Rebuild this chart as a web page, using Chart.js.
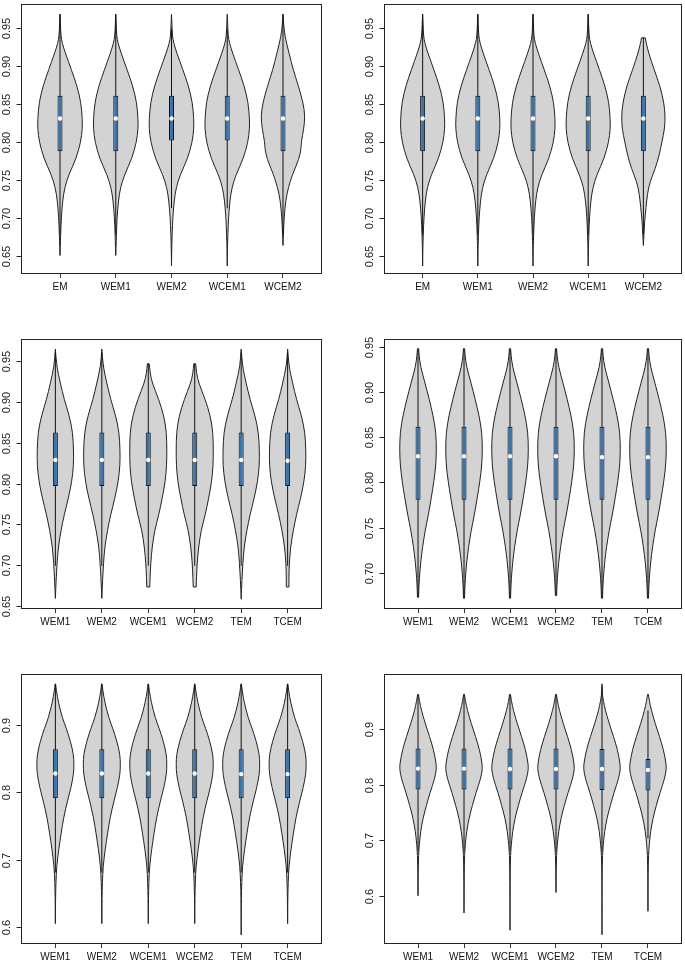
<!DOCTYPE html>
<html>
<head>
<meta charset="utf-8">
<script src="https://cdn.jsdelivr.net/npm/chart.js@4.4.1/dist/chart.umd.min.js"></script>
<style>
  body { margin: 0; background: #fff; width: 685px; height: 964px; overflow: hidden; position: relative; }
  canvas { position: absolute; }
</style>
</head>
<body>
<canvas id="c1" width="342" height="300" style="left:0;top:0"></canvas>
<canvas id="c2" width="324" height="300" style="left:362px;top:0"></canvas>
<canvas id="c3" width="342" height="300" style="left:0;top:335px"></canvas>
<canvas id="c4" width="324" height="300" style="left:362px;top:335px"></canvas>
<canvas id="c5" width="342" height="300" style="left:0;top:670px"></canvas>
<canvas id="c6" width="324" height="300" style="left:362px;top:670px"></canvas>
<script>
  // density outlines: level -> relative half width (1 = widest)
  const shapeALevels = [0.968, 0.955, 0.94, 0.93, 0.917, 0.895, 0.874, 0.852, 0.83, 0.817, 0.80, 0.778, 0.757, 0.74, 0.723, 0.701, 0.68, 0.66, 0.637];
  const shapeAWidths = [0, 0.02, 0.04, 0.10, 0.24, 0.51, 0.76, 0.94, 1.0, 1.0, 0.93, 0.72, 0.39, 0.21, 0.12, 0.06, 0.03, 0.01, 0];
  const shapeBLevels = [0.968, 0.955, 0.94, 0.917, 0.895, 0.874, 0.852, 0.834, 0.817, 0.80, 0.791, 0.778, 0.757, 0.74, 0.723, 0.70, 0.68, 0.664];
  const shapeBWidths = [0, 0.03, 0.08, 0.27, 0.46, 0.69, 0.90, 0.99, 0.93, 0.82, 0.81, 0.72, 0.42, 0.24, 0.12, 0.05, 0.02, 0];
  const shapeCLevels = [0.938, 0.93, 0.917, 0.895, 0.874, 0.852, 0.834, 0.817, 0.80, 0.783, 0.765, 0.748, 0.731, 0.714, 0.697, 0.68, 0.664];
  const shapeCWidths = [0.08, 0.13, 0.24, 0.49, 0.75, 0.93, 0.99, 0.96, 0.84, 0.72, 0.54, 0.30, 0.18, 0.12, 0.06, 0.03, 0];
  const shapeDLevels = [0.965, 0.945, 0.923, 0.903, 0.883, 0.863, 0.842, 0.822, 0.802, 0.782, 0.762, 0.742, 0.722, 0.702, 0.681, 0.659];
  const shapeDWidths = [0, 0.06, 0.27, 0.48, 0.75, 0.93, 0.98, 0.98, 0.88, 0.70, 0.48, 0.30, 0.16, 0.09, 0.04, 0];
  const shapeD2Levels = [0.965, 0.945, 0.923, 0.903, 0.883, 0.863, 0.842, 0.822, 0.802, 0.782, 0.762, 0.742, 0.722, 0.702, 0.685, 0.673];
  const shapeD2Widths = [0, 0.06, 0.27, 0.48, 0.75, 0.93, 0.98, 0.98, 0.88, 0.70, 0.48, 0.30, 0.16, 0.09, 0.07, 0.07];
  const shapeELevels = [0.947, 0.935, 0.923, 0.903, 0.883, 0.863, 0.842, 0.822, 0.802, 0.782, 0.762, 0.742, 0.722, 0.702, 0.686, 0.673];
  const shapeEWidths = [0.05, 0.10, 0.22, 0.57, 0.84, 0.98, 1.0, 0.99, 0.91, 0.75, 0.57, 0.34, 0.21, 0.13, 0.10, 0.08];
  const shapeFLevels = [0.948, 0.94, 0.928, 0.91, 0.892, 0.874, 0.8555, 0.837, 0.8194, 0.801, 0.783, 0.765, 0.747, 0.729, 0.711, 0.693, 0.68, 0.672];
  const shapeFWidths = [0.03, 0.06, 0.14, 0.38, 0.61, 0.82, 0.97, 1.0, 0.97, 0.86, 0.72, 0.57, 0.39, 0.25, 0.14, 0.07, 0.04, 0.03];
  const shapeGLevels = [0.961, 0.95, 0.934, 0.91, 0.895, 0.876, 0.856, 0.841, 0.827, 0.807, 0.788, 0.763, 0.739, 0.715, 0.69, 0.666, 0.642, 0.62, 0.588];
  const shapeGWidths = [0.01, 0.06, 0.16, 0.38, 0.59, 0.81, 0.98, 1.0, 0.98, 0.84, 0.66, 0.45, 0.31, 0.18, 0.07, 0.03, 0.01, 0.005, 0];
  const shapeHLevels = [0.981, 0.962, 0.95, 0.934, 0.91, 0.886, 0.863, 0.839, 0.827, 0.81, 0.786, 0.762, 0.739, 0.715, 0.692, 0.674, 0.64, 0.60, 0.527];
  const shapeHWidths = [0, 0.02, 0.08, 0.18, 0.39, 0.63, 0.84, 0.98, 1.0, 0.90, 0.66, 0.45, 0.27, 0.14, 0.07, 0.03, 0.01, 0.005, 0];

  // panel 1 (top left)
  const p1Names = ['EM', 'WEM1', 'WEM2', 'WCEM1', 'WCEM2'];
  const p1Max = [0.968, 0.968, 0.968, 0.968, 0.968];
  const p1Min = [0.651, 0.651, 0.637, 0.637, 0.664];
  const p1Q1 = [0.788, 0.788, 0.802, 0.802, 0.788];
  const p1Med = [0.831, 0.831, 0.831, 0.831, 0.831];
  const p1Q3 = [0.861, 0.861, 0.861, 0.861, 0.861];
  const p1Lo = [0.678, 0.678, 0.713, 0.713, 0.678];
  const p1Hi = [0.968, 0.968, 0.949, 0.949, 0.968];
  const p1Shape = ['A', 'A', 'A', 'A', 'B'];
  const p1Ticks = ['0.65', '0.70', '0.75', '0.80', '0.85', '0.90', '0.95'];

  // panel 2 (top right)
  const p2Names = ['EM', 'WEM1', 'WEM2', 'WCEM1', 'WCEM2'];
  const p2Max = [0.968, 0.968, 0.968, 0.968, 0.937];
  const p2Min = [0.637, 0.637, 0.637, 0.637, 0.664];
  const p2Q1 = [0.788, 0.788, 0.788, 0.788, 0.788];
  const p2Med = [0.831, 0.831, 0.831, 0.831, 0.831];
  const p2Q3 = [0.861, 0.861, 0.861, 0.861, 0.861];
  const p2Lo = [0.678, 0.678, 0.678, 0.678, 0.678];
  const p2Hi = [0.968, 0.968, 0.968, 0.968, 0.937];
  const p2Shape = ['A', 'A', 'A', 'A', 'C'];
  const p2Ticks = ['0.65', '0.70', '0.75', '0.80', '0.85', '0.90', '0.95'];

  // panel 3 (middle left)
  const p3Names = ['WEM1', 'WEM2', 'WCEM1', 'WCEM2', 'TEM', 'TCEM'];
  const p3Max = [0.965, 0.965, 0.947, 0.947, 0.965, 0.965];
  const p3Min = [0.659, 0.659, 0.673, 0.673, 0.658, 0.673];
  const p3Q1 = [0.797, 0.797, 0.797, 0.797, 0.797, 0.797];
  const p3Med = [0.829, 0.829, 0.829, 0.829, 0.829, 0.828];
  const p3Q3 = [0.8626, 0.8626, 0.8626, 0.8626, 0.8626, 0.8626];
  const p3Lo = [0.699, 0.699, 0.699, 0.699, 0.699, 0.699];
  const p3Hi = [0.961, 0.961, 0.947, 0.947, 0.961, 0.961];
  const p3Shape = ['D', 'D', 'E', 'E', 'D', 'D2'];
  const p3Ticks = ['0.65', '0.70', '0.75', '0.80', '0.85', '0.90', '0.95'];

  // panel 4 (middle right)
  const p4Names = ['WEM1', 'WEM2', 'WCEM1', 'WCEM2', 'TEM', 'TCEM'];
  const p4Max = [0.948, 0.948, 0.948, 0.948, 0.948, 0.948];
  const p4Min = [0.673, 0.672, 0.672, 0.675, 0.672, 0.672];
  const p4Q1 = [0.781, 0.781, 0.781, 0.781, 0.781, 0.781];
  const p4Med = [0.829, 0.829, 0.829, 0.829, 0.828, 0.828];
  const p4Q3 = [0.8617, 0.8617, 0.8617, 0.8617, 0.8617, 0.8617];
  const p4Lo = [0.673, 0.672, 0.672, 0.675, 0.672, 0.672];
  const p4Hi = [0.948, 0.948, 0.948, 0.948, 0.948, 0.948];
  const p4Shape = ['F', 'F', 'F', 'F', 'F', 'F'];
  const p4Ticks = ['0.70', '0.75', '0.80', '0.85', '0.90', '0.95'];

  // panel 5 (bottom left)
  const p5Names = ['WEM1', 'WEM2', 'WCEM1', 'WCEM2', 'TEM', 'TCEM'];
  const p5Max = [0.961, 0.961, 0.961, 0.961, 0.961, 0.961];
  const p5Min = [0.605, 0.605, 0.605, 0.605, 0.588, 0.605];
  const p5Q1 = [0.791, 0.791, 0.791, 0.791, 0.791, 0.791];
  const p5Med = [0.828, 0.828, 0.828, 0.828, 0.827, 0.827];
  const p5Q3 = [0.864, 0.864, 0.864, 0.864, 0.864, 0.864];
  const p5Lo = [0.681, 0.681, 0.681, 0.681, 0.681, 0.681];
  const p5Hi = [0.961, 0.961, 0.961, 0.961, 0.961, 0.961];
  const p5Shape = ['G', 'G', 'G', 'G', 'G', 'G'];
  const p5Ticks = ['0.6', '0.7', '0.8', '0.9'];

  // panel 6 (bottom right)
  const p6Names = ['WEM1', 'WEM2', 'WCEM1', 'WCEM2', 'TEM', 'TCEM'];
  const p6Max = [0.962, 0.962, 0.962, 0.962, 0.981, 0.962];
  const p6Min = [0.600, 0.569, 0.538, 0.606, 0.530, 0.572];
  const p6Q1 = [0.791, 0.791, 0.791, 0.791, 0.790, 0.789];
  const p6Med = [0.8286, 0.8286, 0.828, 0.828, 0.828, 0.826];
  const p6Q3 = [0.8646, 0.8646, 0.8646, 0.8646, 0.864, 0.846];
  const p6Lo = [0.680, 0.680, 0.680, 0.680, 0.680, 0.703];
  const p6Hi = [0.962, 0.962, 0.962, 0.962, 0.975, 0.933];
  const p6Shape = ['H', 'H', 'H', 'H', 'H', 'H'];
  const p6Ticks = ['0.6', '0.7', '0.8', '0.9'];

  const shapes = {
    A: { levels: shapeALevels, widths: shapeAWidths },
    B: { levels: shapeBLevels, widths: shapeBWidths },
    C: { levels: shapeCLevels, widths: shapeCWidths },
    D: { levels: shapeDLevels, widths: shapeDWidths },
    D2: { levels: shapeD2Levels, widths: shapeD2Widths },
    E: { levels: shapeELevels, widths: shapeEWidths },
    F: { levels: shapeFLevels, widths: shapeFWidths },
    G: { levels: shapeGLevels, widths: shapeGWidths },
    H: { levels: shapeHLevels, widths: shapeHWidths }
  };

  const FONT = "'Liberation Sans', Arial, sans-serif";
  const HALF = 0.4;

  function widthAt(sh, v) {
    const L = sh.levels, W = sh.widths;
    if (v === L[0]) return W[0];
    for (let k = 0; k < L.length - 1; k++) {
      if (v <= L[k] && v >= L[k + 1]) {
        const t = (L[k] - v) / (L[k] - L[k + 1]);
        return W[k] + t * (W[k + 1] - W[k]);
      }
    }
    return 0;
  }

  function smooth(ctx, P) {
    for (let k = 1; k < P.length - 1; k++) {
      ctx.quadraticCurveTo(P[k].x, P[k].y, (P[k].x + P[k + 1].x) / 2, (P[k].y + P[k + 1].y) / 2);
    }
    ctx.lineTo(P[P.length - 1].x, P[P.length - 1].y);
  }

  function violinPlugin(p) {
    return {
      id: 'violins',
      beforeDatasetsDraw(chart) {
        const ctx = chart.ctx, xs = chart.scales.x, ys = chart.scales.y, a = chart.chartArea;
        ctx.save();
        ctx.beginPath();
        ctx.rect(a.left, a.top, a.right - a.left, a.bottom - a.top);
        ctx.clip();
        p.names.forEach((n, i) => {
          const sh = shapes[p.shape[i]];
          const pts = [{ v: p.max[i], w: widthAt(sh, p.max[i]) }];
          sh.levels.forEach((v, k) => {
            if (v < p.max[i] && v > p.min[i]) pts.push({ v, w: sh.widths[k] });
          });
          pts.push({ v: p.min[i], w: widthAt(sh, p.min[i]) });
          const right = pts.map(q => ({ x: xs.getPixelForValue(i + 1 + q.w * HALF), y: ys.getPixelForValue(q.v) }));
          const left = pts.map(q => ({ x: xs.getPixelForValue(i + 1 - q.w * HALF), y: ys.getPixelForValue(q.v) })).reverse();
          ctx.beginPath();
          ctx.moveTo(right[0].x, right[0].y);
          smooth(ctx, right);
          ctx.lineTo(left[0].x, left[0].y);
          smooth(ctx, left);
          ctx.closePath();
          ctx.fillStyle = '#d3d3d3';
          ctx.fill();
          ctx.strokeStyle = '#222';
          ctx.lineWidth = 1;
          ctx.stroke();
        });
        ctx.restore();
      },
      afterDraw(chart) {
        const ctx = chart.ctx, ys = chart.scales.y, a = chart.chartArea;
        ctx.save();
        ctx.strokeStyle = '#222';
        ctx.lineWidth = 1;
        const l = Math.round(a.left) + 0.5, t = Math.round(a.top) + 0.5;
        const r = Math.round(a.right) - 0.5, b = Math.round(a.bottom) - 0.5;
        ctx.strokeRect(l, t, r - l, b - t);
        ctx.fillStyle = '#222';
        ctx.font = '11px ' + FONT;
        ctx.textAlign = 'center';
        ctx.textBaseline = 'middle';
        p.ticks.forEach(lab => {
          const y = Math.round(ys.getPixelForValue(parseFloat(lab))) + 0.5;
          ctx.beginPath();
          ctx.moveTo(l - 5, y);
          ctx.lineTo(l, y);
          ctx.stroke();
          ctx.save();
          ctx.translate(l - 15, y);
          ctx.rotate(-Math.PI / 2);
          ctx.fillText(lab, 0, 0);
          ctx.restore();
        });
        ctx.restore();
      }
    };
  }

  function makePanel(id, p, yMin, yMax, padLeft, padRight) {
    const n = p.names.length;
    new Chart(document.getElementById(id), {
      type: 'bar',
      data: {
        datasets: [
          {
            type: 'scatter',
            data: p.names.map((nm, i) => ({ x: i + 1, y: p.med[i] })),
            pointRadius: 2.2,
            pointBackgroundColor: '#fff',
            pointBorderWidth: 0,
            order: 0
          },
          {
            data: p.names.map((nm, i) => ({ x: i + 1, y: [p.q1[i], p.q3[i]] })),
            barThickness: 5,
            backgroundColor: '#3b74aa',
            borderColor: '#111',
            borderWidth: 1,
            borderSkipped: false,
            inflateAmount: 0,
            grouped: false,
            order: 1
          },
          {
            data: p.names.map((nm, i) => ({ x: i + 1, y: [p.lo[i], p.hi[i]] })),
            barThickness: 1,
            backgroundColor: '#111',
            borderWidth: 0,
            inflateAmount: 0,
            grouped: false,
            order: 2
          }
        ]
      },
      options: {
        responsive: false,
        animation: false,
        events: [],
        layout: { padding: { left: padLeft, right: padRight, top: 0, bottom: 0 } },
        plugins: { legend: { display: false }, tooltip: { enabled: false } },
        scales: {
          x: {
            type: 'linear',
            offset: false,
            min: 0.5 - 0.04 * n,
            max: n + 0.5 + 0.04 * n,
            afterBuildTicks: s => { s.ticks = p.names.map((nm, i) => ({ value: i + 1 })); },
            afterFit: s => { s.height = 26; },
            ticks: {
              callback: (v, i) => p.names[i],
              autoSkip: false,
              maxRotation: 0,
              minRotation: 0,
              padding: 3,
              color: '#111',
              font: { family: FONT, size: 10 }
            },
            grid: { display: true, offset: false, drawOnChartArea: false, drawTicks: true, tickLength: 4, color: '#333' },
            border: { display: false }
          },
          y: { display: false, min: yMin, max: yMax }
        }
      },
      plugins: [violinPlugin(p)]
    });
  }

  makePanel('c1', { names: p1Names, max: p1Max, min: p1Min, q1: p1Q1, med: p1Med, q3: p1Q3, lo: p1Lo, hi: p1Hi, shape: p1Shape, ticks: p1Ticks }, 0.6265, 0.9815, 21, 20);
  makePanel('c2', { names: p2Names, max: p2Max, min: p2Min, q1: p2Q1, med: p2Med, q3: p2Q3, lo: p2Lo, hi: p2Hi, shape: p2Shape, ticks: p2Ticks }, 0.6265, 0.9815, 22, 0);
  makePanel('c3', { names: p3Names, max: p3Max, min: p3Min, q1: p3Q1, med: p3Med, q3: p3Q3, lo: p3Lo, hi: p3Hi, shape: p3Shape, ticks: p3Ticks }, 0.646, 0.9774, 21, 20);
  makePanel('c4', { names: p4Names, max: p4Max, min: p4Min, q1: p4Q1, med: p4Med, q3: p4Q3, lo: p4Lo, hi: p4Hi, shape: p4Shape, ticks: p4Ticks }, 0.660, 0.9587, 22, 0);
  makePanel('c5', { names: p5Names, max: p5Max, min: p5Min, q1: p5Q1, med: p5Med, q3: p5Q3, lo: p5Lo, hi: p5Hi, shape: p5Shape, ticks: p5Ticks }, 0.5747, 0.9757, 21, 20);
  makePanel('c6', { names: p6Names, max: p6Max, min: p6Min, q1: p6Q1, med: p6Med, q3: p6Q3, lo: p6Lo, hi: p6Hi, shape: p6Shape, ticks: p6Ticks }, 0.5132, 0.9987, 22, 0);
</script>
</body>
</html>
